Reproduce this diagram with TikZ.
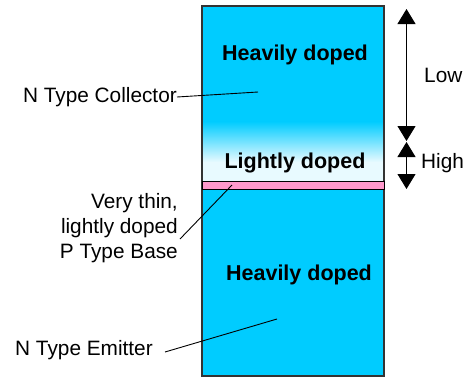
\documentclass[tikz,border=0pt]{standalone}
\usepackage{fontspec}
\setmainfont{Liberation Sans}
\usetikzlibrary{arrows.meta}
\definecolor{cyanc}{HTML}{00CCFF}
\definecolor{lightc}{HTML}{E8FAFF}
\definecolor{pinkc}{HTML}{FF99CC}
\definecolor{edgec}{HTML}{333333}
\tikzset{
  lbl/.style={inner sep=0pt, font=\fontsize{20.8}{25}\selectfont},
  bold/.style={inner sep=0pt, font=\fontsize{21.5}{25}\selectfont\bfseries},
  lead/.style={draw=black, line width=0.9pt},
  dim/.style={draw=black, line width=1pt},
  tip/.style={-{Triangle[width=18pt,length=15pt]}}
}
\begin{document}
\begin{tikzpicture}[x=1pt,y=-1pt]
\useasboundingbox (0,0) rectangle (468,378);
% layers
\fill[cyanc] (202,6) rectangle (384,122);
\shade[top color=cyanc, bottom color=lightc] (202,121.5) rectangle (384,162);
\fill[lightc] (202,161.5) rectangle (384,182);
\fill[cyanc] (202,190) rectangle (384,376);
\draw[edgec, line width=1.2pt] (202,6) rectangle (384,376);
\draw[black, line width=1pt, fill=pinkc] (202,181.5) rectangle (384,189.5);
% region texts
\node[bold] (h1) at (295,55) {Heavily doped};
\node[bold] (ld) at (295,163) {Lightly doped};
\node[bold] (h2) at (299,275) {Heavily doped};
% labels
\node[lbl, anchor=east] (col) at (177,97) {N Type Collector};
\node[lbl, anchor=east, align=right] (base) at (178,228) {Very thin,\\lightly doped\\P Type Base};
\node[lbl, anchor=west] (emi) at (15,350) {N Type Emitter};
\coordinate (colend) at (258,92);
\coordinate (baseend) at (232,185);
\coordinate (baseA) at (180,239);
\coordinate (emiA) at (165,352);
\coordinate (emiend) at (277,319);
\draw[lead] (col.east) -- (colend);
\draw[lead] (baseA) -- (baseend);
\draw[lead] (emiA) -- (emiend);
% dimension arrows
\coordinate (a1) at (406.5,9);
\coordinate (a2) at (406.5,141);
\coordinate (a3) at (406.5,142);
\coordinate (a4) at (406.5,189);
\coordinate (m1) at (406.5,75);
\coordinate (m2) at (406.5,165);
\draw[dim, tip] (m1) -- (a1);
\draw[dim, tip] (m1) -- (a2);
\draw[dim, tip] (m2) -- (a3);
\draw[dim, tip] (m2) -- (a4);
\node[lbl, anchor=west] (low) at (424,75) {Low};
\node[lbl, anchor=west] (high) at (421,163) {High};
\end{tikzpicture}
\end{document}
